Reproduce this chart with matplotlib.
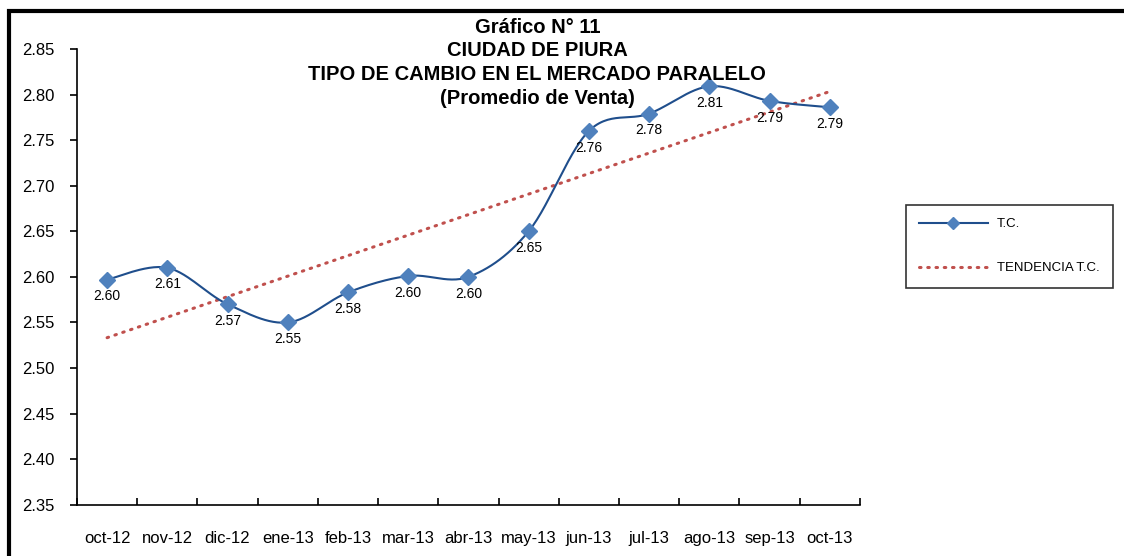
import numpy as np
import matplotlib.pyplot as plt
from matplotlib.patches import Rectangle
from matplotlib.lines import Line2D

plt.rcParams['font.family'] = ['Liberation Sans', 'DejaVu Sans']

months = ['oct-12', 'nov-12', 'dic-12', 'ene-13', 'feb-13', 'mar-13', 'abr-13',
          'may-13', 'jun-13', 'jul-13', 'ago-13', 'sep-13', 'oct-13']
tc = [2.597, 2.610, 2.570, 2.550, 2.583, 2.601, 2.600,
      2.650, 2.760, 2.779, 2.809, 2.793, 2.786]
title_lines = ['Gráfico N° 11', 'CIUDAD DE PIURA',
               'TIPO DE CAMBIO EN EL MERCADO PARALELO', '(Promedio de Venta)']


def smooth(xs, ys, n=30):
    # Catmull-Rom curve, similar to Excel's "smoothed line"
    px = np.concatenate([[xs[0]], xs, [xs[-1]]])
    py = np.concatenate([[ys[0]], ys, [ys[-1]]])
    ox, oy = [], []
    t = np.linspace(0, 1, n)
    for i in range(1, len(px) - 2):
        p0, p1, p2, p3 = (np.array([px[j], py[j]]) for j in range(i - 1, i + 3))
        c1 = p1 + (p2 - p0) / 6
        c2 = p2 - (p3 - p1) / 6
        pts = ((1 - t)[:, None] ** 3 * p1 + 3 * ((1 - t) ** 2 * t)[:, None] * c1
               + 3 * ((1 - t) * t ** 2)[:, None] * c2 + (t ** 3)[:, None] * p2)
        ox.extend(pts[:, 0])
        oy.extend(pts[:, 1])
    return np.array(ox), np.array(oy)


fig = plt.figure(figsize=(11.24, 5.56), dpi=100)
ax = fig.add_axes([0.0685, 0.092, 0.6965, 0.82])

x = np.arange(len(months))
y = np.array(tc)
sx, sy = smooth(x.astype(float), y)
line_col = '#1F4E8C'
mark_col = '#4F81BD'
trend_col = '#C0504D'

ax.plot(sx, sy, color=line_col, lw=1.5, zorder=3)
ax.plot(x, y, ls='none', marker='D', ms=8, color=mark_col, zorder=4)

slope, icpt = np.polyfit(x, y, 1)
ax.plot(x, slope * x + icpt, color=trend_col, lw=2.2, ls=(0, (0.5, 2.2)),
        dash_capstyle='round', zorder=2)

for xi, yi in zip(x, y):
    ax.annotate(f'{yi:.2f}', (xi, yi), xytext=(0, -7), textcoords='offset points',
                ha='center', va='top', fontsize=10)

ax.set_xlim(-0.5, len(months) - 0.5)
ax.set_ylim(2.35, 2.85)
yt = np.arange(2.35, 2.851, 0.05)
ax.set_yticks(yt)
ax.set_yticklabels([f'{v:.2f}' for v in yt], fontsize=12)
ax.set_xticks(x)
ax.set_xticklabels(months, fontsize=12)
ax.set_xticks(np.arange(-0.5, len(months), 1), minor=True)
ax.tick_params(axis='x', which='major', length=0, pad=19)
ax.tick_params(axis='x', which='minor', length=5, direction='in', width=1.2)
ax.tick_params(axis='y', length=5, direction='out', width=1.2, pad=11)
for s in ['top', 'right']:
    ax.spines[s].set_visible(False)
for s in ['left', 'bottom']:
    ax.spines[s].set_linewidth(1.2)

for i, t in enumerate(title_lines):
    fig.text(0.478, 0.951 - i * 0.0425, t, ha='center', va='center',
             fontsize=14.5, fontweight='bold')

handles = [Line2D([], [], color=line_col, lw=1.5, marker='D', ms=6,
                  markerfacecolor=mark_col, markeredgecolor=mark_col),
           Line2D([], [], color=trend_col, lw=2.2, ls=(0, (0.5, 2.2)),
                  dash_capstyle='round')]
leg = fig.legend(handles, ['T.C.', 'TENDENCIA T.C.'], loc='center left',
                 bbox_to_anchor=(0.800, 0.557), fontsize=9.5, frameon=True,
                 fancybox=False, edgecolor='black', handlelength=5.2,
                 handletextpad=0.7, labelspacing=2.4, borderpad=1.0)
leg.get_frame().set_linewidth(1.2)

fig.patches.append(Rectangle((9 / 1124, -0.1), 1.2, 1.1 - 11 / 556,
                             transform=fig.transFigure, fill=False,
                             edgecolor='black', lw=3))

fig.savefig('out.png', dpi=100)
